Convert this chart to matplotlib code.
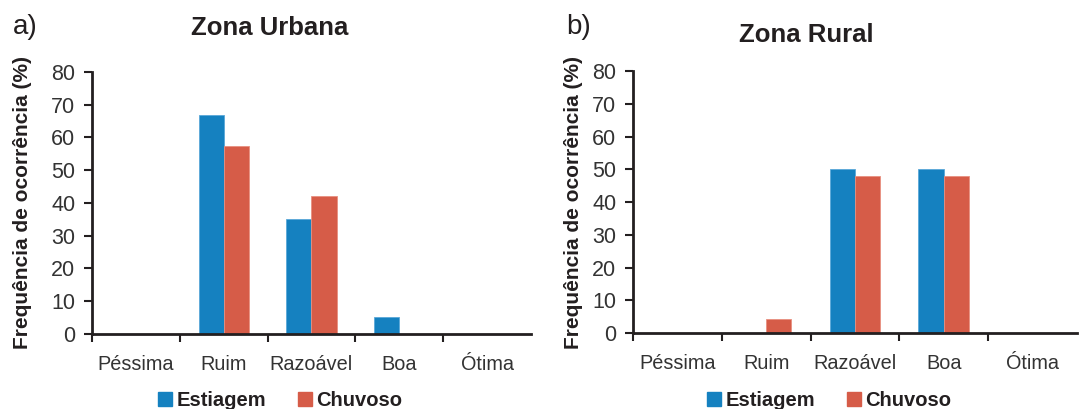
import numpy as np
import matplotlib.pyplot as plt
from matplotlib.patches import Patch

plt.rcParams['font.family'] = ['Liberation Sans', 'DejaVu Sans']

categorias = ['Péssima', 'Ruim', 'Razoável', 'Boa', 'Ótima']
urbana_estiagem = [0, 67, 35, 5.3, 0]
urbana_chuvoso = [0, 57.5, 42, 0, 0]
rural_estiagem = [0, 0, 50, 50, 0]
rural_chuvoso = [0, 4.3, 48, 48, 0]

azul = '#1581c0'
vermelho = '#d65c48'
escuro = '#231f20'

fig = plt.figure(figsize=(10.87, 4.09), dpi=100)
ax1 = fig.add_axes([0.0846, 0.1834, 0.4039, 0.6406])
ax2 = fig.add_axes([0.5823, 0.1858, 0.4085, 0.6406])

x = np.arange(len(categorias))
w = 0.285


def painel(ax, est, chu, titulo, tx, ty, lx):
    ax.bar(x - w / 2, est, w, color=azul, edgecolor='#5aa8d8', linewidth=0.6)
    ax.bar(x + w / 2, chu, w, color=vermelho, edgecolor='#e89080', linewidth=0.6)
    ax.set_xlim(-0.5, 4.5)
    ax.set_ylim(0, 80)
    ax.set_yticks(range(0, 81, 10))
    ax.set_xticks(np.arange(-0.5, 4, 1))
    ax.set_xticklabels([])
    ax.set_xticks(x, minor=True)
    ax.set_xticklabels(categorias, minor=True, fontsize=14.3, color='#333333')
    ax.tick_params(axis='x', which='minor', length=0, pad=15)
    ax.tick_params(axis='x', which='major', length=6, width=1.5, color=escuro)
    ax.tick_params(axis='y', length=6, width=1.5, color=escuro, labelsize=15.5,
                   labelcolor='#333333', pad=6)
    for s in ['top', 'right']:
        ax.spines[s].set_visible(False)
    for s in ['left', 'bottom']:
        ax.spines[s].set_linewidth(2)
        ax.spines[s].set_color(escuro)
    ax.set_ylabel('Frequência de ocorrência (%)', fontsize=15, fontweight='bold',
                  color=escuro)
    ax.yaxis.set_label_coords(lx, 0.5)
    ax.set_title(titulo, fontsize=18.5, fontweight='bold', color=escuro, x=tx, y=ty)


painel(ax1, urbana_estiagem, urbana_chuvoso, 'Zona Urbana', 0.405, 1.11, -0.137)
painel(ax2, rural_estiagem, rural_chuvoso, 'Zona Rural', 0.39, 1.08, -0.113)

fig.text(0.012, 0.933, 'a)', fontsize=20, color=escuro, va='center')
fig.text(0.521, 0.933, 'b)', fontsize=20, color=escuro, va='center')

handles = [Patch(color=azul, label='Estiagem'), Patch(color=vermelho, label='Chuvoso')]
for cx in [0.258, 0.763]:
    fig.legend(handles=handles, loc='center', bbox_to_anchor=(cx, 0.02), ncol=2,
               frameon=False, prop={'weight': 'bold', 'size': 14.5},
               handlelength=0.7, handleheight=0.7, handletextpad=0.2,
               columnspacing=1.6, labelcolor=escuro)

fig.savefig('out.png', dpi=100)
